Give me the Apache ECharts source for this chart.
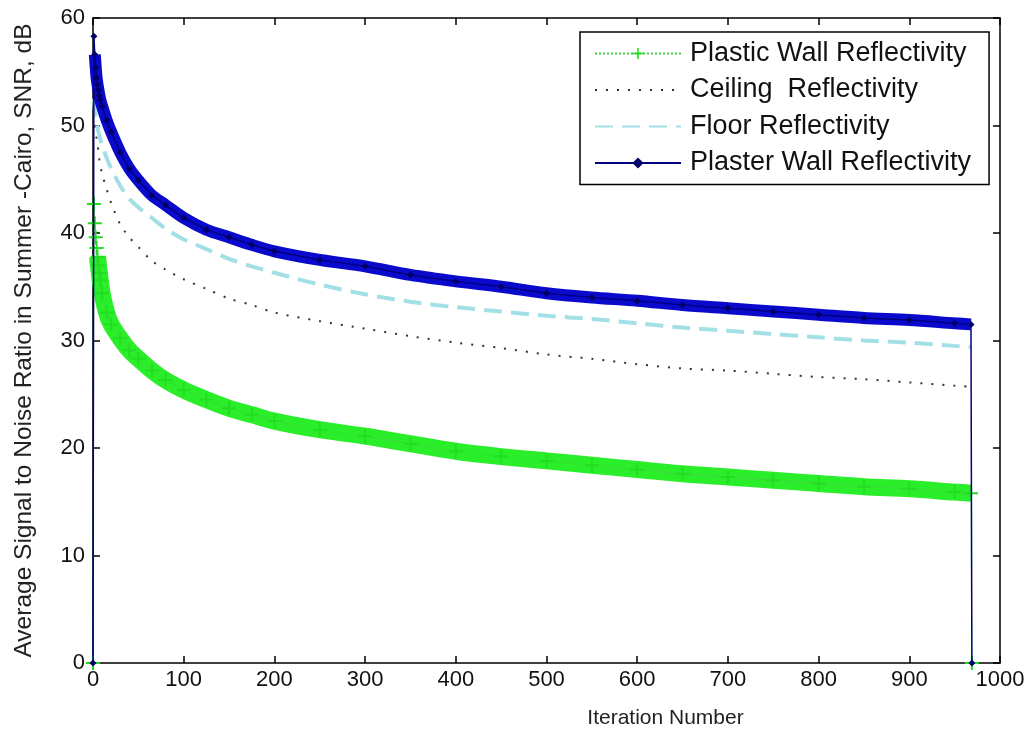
<!DOCTYPE html>
<html>
<head>
<meta charset="utf-8">
<script src="https://cdn.jsdelivr.net/npm/echarts@6/dist/echarts.min.js"></script>
<style>
  html, body { margin: 0; padding: 0; background: #fff; }
  #chart { width: 1028px; height: 730px; }
</style>
</head>
<body>
<div id="chart"></div>
<script>
var iterations = [0, 1, 2, 3, 4, 5, 6, 7, 8, 10, 15, 20, 30, 40, 50, 65, 80, 100, 125, 150, 175, 200,
	250, 300, 350, 400, 450, 500, 550, 600, 650, 700, 750, 800, 850, 900, 950, 968, 969];

var plasticWall = [0, 42.7, 40.9, 39.6, 38.6, 37.8, 37.0, 36.3, 35.6, 34.4, 32.6, 31.5, 30.2, 29.1, 28.3, 27.2, 26.3,
	25.4, 24.5, 23.7, 23.1, 22.5, 21.7, 21.1, 20.4, 19.7, 19.2, 18.8, 18.4, 18.0, 17.6, 17.3, 17.0, 16.7, 16.4,
	16.2, 15.9, 15.8, 0];
var ceiling = [0, 51.0, 50.0, 49.3, 48.8, 48.3, 47.5, 46.8, 46.3, 45.5, 44.1, 42.8, 40.8, 39.6, 38.7, 37.4, 36.6,
	35.7, 34.8, 33.9, 33.3, 32.6, 31.8, 31.1, 30.4, 29.8, 29.3, 28.7, 28.3, 27.8, 27.4, 27.2, 26.9, 26.6, 26.4,
	26.1, 25.8, 25.7, 0];
var floor = [0, 52.5, 51.5, 50.8, 50.3, 49.8, 49.4, 49.0, 48.7, 48.2, 47.0, 46.0, 44.4, 43.2, 42.4, 41.4, 40.4,
	39.4, 38.5, 37.6, 36.9, 36.3, 35.2, 34.3, 33.6, 33.1, 32.7, 32.3, 32.0, 31.6, 31.2, 30.9, 30.6, 30.3, 30.0,
	29.8, 29.5, 29.4, 0];
var plasterWall = [0, 58.3, 56.6, 55.4, 54.4, 53.8, 53.3, 52.8, 52.4, 51.8, 50.5, 49.4, 47.5, 46.0, 44.9, 43.5, 42.6,
	41.4, 40.3, 39.6, 38.9, 38.3, 37.5, 36.9, 36.1, 35.5, 35.0, 34.4, 34.0, 33.7, 33.3, 33.0, 32.7, 32.4, 32.1,
	31.9, 31.6, 31.5, 0];

var xTicks = [0, 100, 200, 300, 400, 500, 600, 700, 800, 900, 1000];
var yTicks = [0, 10, 20, 30, 40, 50, 60];

var names = ['Plastic Wall Reflectivity', 'Ceiling  Reflectivity', 'Floor Reflectivity', 'Plaster Wall Reflectivity'];

function pairs(values) {
	return iterations.map(function (x, i) { return [x, values[i]]; });
}
// part of the curve from index `from`, without the drop to zero at the end
function body(values, from) {
	return pairs(values).slice(from, -1);
}

var plusPath = 'path://M4.3,0H5.7V10H4.3ZM0,4.3H10V5.7H0Z';
var font = '"Liberation Sans", Arial, sans-serif';
var clear = 'rgba(0,0,0,0)';

var chart = echarts.init(document.getElementById('chart'));

var frameAxis = {
	type: 'value',
	axisLine: { show: true, onZero: false, lineStyle: { color: '#000', width: 1.5 } },
	axisTick: { show: true, inside: true, length: 7, lineStyle: { color: '#000', width: 1.5 } },
	splitLine: { show: false },
	axisLabel: { show: false }
};

var option = {
	backgroundColor: '#fff',
	animation: false,
	textStyle: { fontFamily: font },
	grid: { left: 93, right: 28, top: 18, bottom: 67, containLabel: false, outerBoundsMode: 'none' },
	legend: {
		orient: 'vertical',
		left: 580,
		top: 32,
		align: 'left',
		padding: [8, 18, 8, 14],
		itemGap: 9.5,
		itemWidth: 86,
		itemHeight: 14,
		borderColor: '#000',
		borderWidth: 1.5,
		backgroundColor: '#fff',
		textStyle: { fontSize: 27, color: '#111', fontFamily: font, lineHeight: 26, padding: [0, 0, 0, 4] },
		data: names
	},
	xAxis: [
		Object.assign({}, frameAxis, {
			min: 0, max: 1000, interval: 100, position: 'bottom',
			name: 'Iteration Number', nameLocation: 'middle', nameGap: 45,
			nameTextStyle: { fontSize: 21, color: '#222', fontFamily: font, padding: [0, 0, 0, 238] },
			axisLabel: {
				show: true, fontSize: 22, color: '#111', margin: 6, fontFamily: font,
				formatter: function (v) { return xTicks.indexOf(v) >= 0 ? String(v) : ''; }
			}
		}),
		Object.assign({}, frameAxis, { min: 0, max: 1000, interval: 100, position: 'top' })
	],
	yAxis: [
		Object.assign({}, frameAxis, {
			min: 0, max: 60, interval: 10, position: 'left',
			name: 'Average Signal to Noise Ratio in Summer -Cairo, SNR, dB',
			nameLocation: 'middle', nameGap: 56, nameRotate: 90,
			nameTextStyle: { fontSize: 24.5, color: '#222', fontFamily: font },
			axisLabel: {
				show: true, fontSize: 22, color: '#111', margin: 8, fontFamily: font,
				formatter: function (v) { return yTicks.indexOf(v) >= 0 ? String(v) : ''; }
			}
		}),
		Object.assign({}, frameAxis, { min: 0, max: 60, interval: 10, position: 'right' })
	],
	series: [
		{
			name: names[0], type: 'line', data: pairs(plasticWall), z: 3,
			symbol: plusPath, symbolSize: 14, showAllSymbol: true,
			itemStyle: { color: '#22dd22' },
			lineStyle: { color: '#44cc44', width: 1, type: 'dotted' }
		},
		{
			name: names[0], type: 'line', data: body(plasticWall, 5), z: 2,
			symbol: 'none', smooth: 0.3,
			lineStyle: { color: '#2bee2b', width: 17, cap: 'butt' }
		},
		{
			name: names[1], type: 'line', data: body(ceiling, 1), z: 4,
			symbol: 'none', smooth: 0.3,
			itemStyle: { color: clear },
			lineStyle: { color: '#333', width: 2, type: [2, 9] }
		},
		{
			name: names[2], type: 'line', data: body(floor, 1), z: 5,
			symbol: 'none', smooth: 0.3,
			itemStyle: { color: clear },
			lineStyle: { color: '#a2e0e6', width: 4, type: [18, 9] }
		},
		{
			name: names[3], type: 'line', data: pairs(plasterWall), z: 7,
			symbol: 'diamond', symbolSize: 7, showAllSymbol: true,
			itemStyle: { color: '#000066' },
			lineStyle: { color: '#000080', width: 1.5 }
		},
		{
			name: names[3], type: 'line', data: body(plasterWall, 2), z: 6,
			symbol: 'none', smooth: 0.3,
			lineStyle: { color: '#0a0acc', width: 12, cap: 'butt' }
		}
	]
};

chart.setOption(option);
</script>
</body>
</html>
